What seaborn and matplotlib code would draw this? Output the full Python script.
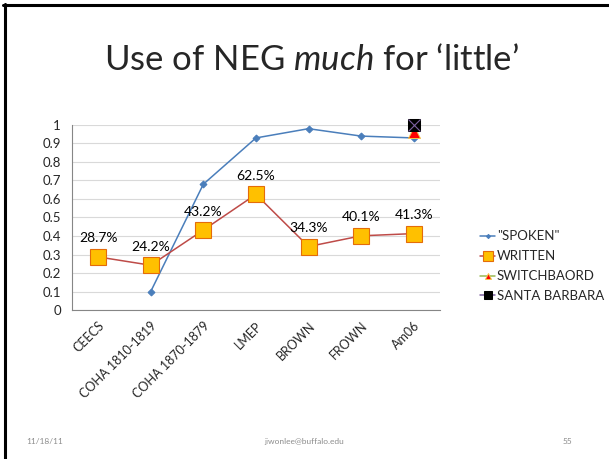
import numpy as np
import pandas as pd
import matplotlib
matplotlib.use('Agg')
import matplotlib.pyplot as plt
import seaborn as sns

# data
corpora = ['CEECS', 'COHA 1810-1819', 'COHA 1870-1879', 'LMEP', 'BROWN', 'FROWN', 'Am06']
spoken = [np.nan, 0.10, 0.68, 0.93, 0.98, 0.94, 0.93]
written = [0.287, 0.242, 0.432, 0.625, 0.343, 0.401, 0.413]
switchboard = [np.nan, np.nan, np.nan, np.nan, np.nan, np.nan, 0.96]
santa_barbara = [np.nan, np.nan, np.nan, np.nan, np.nan, np.nan, 1.0]
written_labels = ['28.7%', '24.2%', '43.2%', '62.5%', '34.3%', '40.1%', '41.3%']
y_ticks = [0, 0.1, 0.2, 0.3, 0.4, 0.5, 0.6, 0.7, 0.8, 0.9, 1]

sns.set_style('white')
plt.rcParams['font.family'] = ['Lato', 'DejaVu Sans']
plt.rcParams['mathtext.fontset'] = 'custom'
plt.rcParams['mathtext.rm'] = 'Lato'
plt.rcParams['mathtext.it'] = 'Lato:italic'

pos = np.arange(len(corpora))
df = pd.DataFrame({'pos': pos, 'spoken': spoken, 'written': written,
                   'switchboard': switchboard, 'santa': santa_barbara})

fig = plt.figure(figsize=(6.09, 4.59), dpi=100)
ax = fig.add_axes([0.118, 0.3246, 0.6045, 0.4031])

sns.lineplot(data=df, x='pos', y='spoken', ax=ax, color='#4A7EBB', lw=1.1,
             marker='D', markersize=3.5, markeredgecolor='#4A7EBB', label='"SPOKEN"')
sns.lineplot(data=df, x='pos', y='written', ax=ax, color='#BE4B48', lw=1.1,
             marker='s', markersize=11, markerfacecolor='#FFC000',
             markeredgecolor='#E46C0A', markeredgewidth=0.8, label='WRITTEN')
sns.lineplot(data=df, x='pos', y='switchboard', ax=ax, color='#98B954', lw=1.1,
             marker='^', markersize=8, markerfacecolor='#FF0000',
             markeredgecolor='#F2C84B', markeredgewidth=0.7, label='SWITCHBAORD')
sns.lineplot(data=df, x='pos', y='santa', ax=ax, color='#7D60A0', lw=1.1,
             marker='s', markersize=9, markerfacecolor='#000000',
             markeredgecolor='#000000', label='SANTA BARBARA')
# X on the black square
ax.plot(df['pos'], df['santa'], ls='none', marker='x', markersize=8,
        markeredgecolor='#7D60A0', markeredgewidth=0.8, clip_on=False, zorder=5)
for line in ax.lines:
    line.set_clip_on(False)

for x, y, t in zip(pos, written, written_labels):
    ax.annotate(t, (x, y), xytext=(0, 9), textcoords='offset points',
                ha='center', va='bottom', fontsize=10, color='#000000')

ax.set_xlim(-0.5, len(corpora) - 0.5)
ax.set_ylim(0, 1)
ax.set_yticks(y_ticks)
ax.set_yticklabels([f'{v:g}' for v in y_ticks], fontsize=9.5)
ax.set_xticks(np.arange(-0.5, len(corpora)), minor=False)
ax.set_xticklabels([])
ax.set_xticks(pos, minor=True)
ax.set_xticklabels(corpora, minor=True, rotation=45, ha='right',
                   rotation_mode='anchor', fontsize=9)
ax.tick_params(axis='x', which='minor', length=0, pad=7)
ax.tick_params(axis='x', which='major', length=4, color='#868686', direction='out')
ax.tick_params(axis='y', length=4, color='#868686', direction='out', pad=4)
ax.set_xlabel('')
ax.set_ylabel('')
ax.grid(axis='y', color='#D9D9D9', lw=0.8)
for s in ['top', 'right']:
    ax.spines[s].set_visible(False)
for s in ['left', 'bottom']:
    ax.spines[s].set_color('#868686')
    ax.spines[s].set_linewidth(0.8)

handles, labels = ax.get_legend_handles_labels()
ax.legend_.remove()
fig.legend(handles, labels, loc='center left', bbox_to_anchor=(0.768, 0.42),
           frameon=False, fontsize=9.5, handlelength=1.2, handletextpad=0.1,
           labelspacing=0.6, markerscale=0.6)

fig.text(0.511, 0.87, 'Use of NEG $\\it{much}$ for \u2018little\u2019',
         ha='center', va='center', fontsize=25)

fig.text(0.074, 0.032, '11/18/11', fontsize=6, color='#8C8C8C', ha='center')
fig.text(0.50, 0.032, 'jiwonlee@buffalo.edu', fontsize=6, color='#8C8C8C', ha='center')
fig.text(0.931, 0.032, '55', fontsize=6, color='#8C8C8C', ha='center')

# slide frame: left and top edge
fig.add_artist(plt.Line2D([0.0075, 0.0075], [0, 0.991], color='#000000', lw=2.2))
fig.add_artist(plt.Line2D([0.0045, 1], [0.989, 0.989], color='#000000', lw=2.2))

fig.savefig('out.png', dpi=100)
